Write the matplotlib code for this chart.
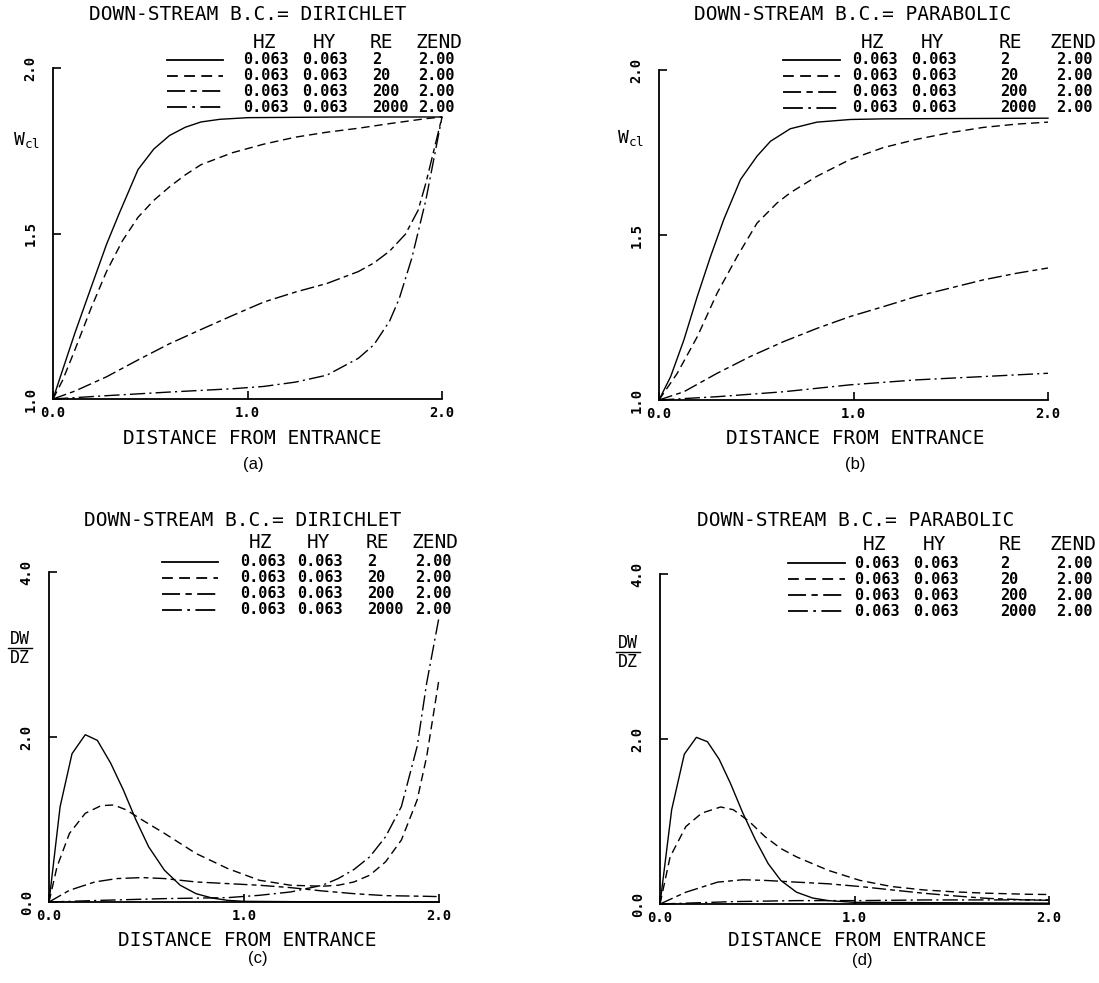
import matplotlib
matplotlib.use('Agg')
import matplotlib.pyplot as plt
from matplotlib.lines import Line2D

FIG_W, FIG_H = 1099, 983
MONO = 'DejaVu Sans Mono'
plt.rcParams['mathtext.fontset'] = 'custom'
plt.rcParams['mathtext.rm'] = MONO
plt.rcParams['mathtext.it'] = MONO

# ---------------- data ----------------
titles = ['DOWN-STREAM B.C.= DIRICHLET', 'DOWN-STREAM B.C.= PARABOLIC',
          'DOWN-STREAM B.C.= DIRICHLET', 'DOWN-STREAM B.C.= PARABOLIC']
panel_tags = ['(a)', '(b)', '(c)', '(d)']
x_label = 'DISTANCE FROM ENTRANCE'
x_ticks = [0.0, 1.0, 2.0]
x_tick_labels = ['0.0', '1.0', '2.0']
w_ticks = [1.0, 1.5, 2.0]
w_tick_labels = ['1.0', '1.5', '2.0']
d_ticks = [0.0, 2.0, 4.0]
d_tick_labels = ['0.0', '2.0', '4.0']
w_label = r'$\mathrm{W}_{\mathrm{cl}}$'
d_label_num = 'DW'
d_label_den = 'DZ'
legend_header = ['HZ', 'HY', 'RE', 'ZEND']
hz_values = ['0.063', '0.063', '0.063', '0.063']
hy_values = ['0.063', '0.063', '0.063', '0.063']
re_values = ['2', '20', '200', '2000']
zend_values = ['2.00', '2.00', '2.00', '2.00']

# (a) W_cl, Dirichlet
a_re2_z = [0, 0.049, 0.113, 0.194, 0.275, 0.340, 0.437, 0.518, 0.599, 0.680, 0.761, 0.858, 1.003, 1.5, 2.0]
a_re2_w = [1.0, 1.087, 1.200, 1.334, 1.467, 1.560, 1.693, 1.755, 1.796, 1.821, 1.837, 1.845, 1.850, 1.852, 1.852]
a_re20_z = [0, 0.049, 0.113, 0.194, 0.275, 0.356, 0.437, 0.518, 0.599, 0.680, 0.761, 0.922, 1.084, 1.246, 1.408, 1.570, 1.731, 1.917, 2.0]
a_re20_w = [1.0, 1.056, 1.149, 1.272, 1.385, 1.477, 1.549, 1.600, 1.641, 1.677, 1.708, 1.744, 1.770, 1.791, 1.806, 1.818, 1.832, 1.847, 1.852]
a_re200_z = [0, 0.113, 0.275, 0.437, 0.599, 0.761, 0.922, 1.084, 1.246, 1.408, 1.570, 1.650, 1.731, 1.812, 1.877, 1.917, 2.0]
a_re200_w = [1.0, 1.024, 1.067, 1.118, 1.167, 1.210, 1.252, 1.293, 1.323, 1.349, 1.385, 1.411, 1.447, 1.498, 1.570, 1.652, 1.852]
a_re2000_z = [0, 0.275, 0.599, 0.922, 1.084, 1.246, 1.408, 1.570, 1.650, 1.731, 1.780, 1.845, 1.917, 2.0]
a_re2000_w = [1.0, 1.010, 1.021, 1.031, 1.038, 1.051, 1.072, 1.123, 1.164, 1.236, 1.303, 1.426, 1.601, 1.852]

# (b) W_cl, Parabolic
b_re2_z = [0, 0.060, 0.128, 0.197, 0.265, 0.333, 0.419, 0.504, 0.573, 0.675, 0.812, 0.983, 1.154, 2.0]
b_re2_w = [1.0, 1.071, 1.182, 1.314, 1.435, 1.547, 1.668, 1.739, 1.784, 1.822, 1.842, 1.850, 1.852, 1.854]
b_re20_z = [0, 0.094, 0.197, 0.299, 0.402, 0.504, 0.607, 0.675, 0.812, 0.983, 1.154, 1.325, 1.496, 1.667, 1.838, 2.0]
b_re20_w = [1.0, 1.081, 1.192, 1.324, 1.435, 1.536, 1.597, 1.628, 1.678, 1.729, 1.765, 1.790, 1.810, 1.826, 1.836, 1.842]
b_re200_z = [0, 0.128, 0.299, 0.470, 0.641, 0.812, 0.983, 1.154, 1.325, 1.496, 1.667, 1.838, 2.0]
b_re200_w = [1.0, 1.025, 1.081, 1.132, 1.177, 1.217, 1.253, 1.283, 1.314, 1.339, 1.364, 1.384, 1.400]
b_re2000_z = [0, 0.299, 0.641, 0.983, 1.325, 1.667, 2.0]
b_re2000_w = [1.0, 1.010, 1.025, 1.046, 1.061, 1.071, 1.081]

# (c) DW/DZ, Dirichlet
c_re2_z = [0, 0.057, 0.118, 0.186, 0.248, 0.316, 0.381, 0.446, 0.511, 0.592, 0.673, 0.754, 0.835, 0.916, 1.0, 1.5, 2.0]
c_re2_d = [0, 1.156, 1.797, 2.028, 1.959, 1.684, 1.359, 0.994, 0.669, 0.385, 0.203, 0.101, 0.049, 0.020, 0.008, 0.0, 0.0]
c_re20_z = [0, 0.041, 0.105, 0.186, 0.267, 0.332, 0.397, 0.478, 0.592, 0.754, 0.916, 1.078, 1.240, 1.402, 1.483, 1.564, 1.645, 1.726, 1.807, 1.888, 1.937, 2.0]
c_re20_d = [0, 0.426, 0.832, 1.075, 1.168, 1.176, 1.116, 0.994, 0.832, 0.588, 0.406, 0.264, 0.203, 0.191, 0.203, 0.243, 0.325, 0.487, 0.751, 1.237, 1.765, 2.70]
c_re200_z = [0, 0.105, 0.235, 0.348, 0.478, 0.592, 0.754, 0.916, 1.078, 1.240, 1.402, 1.564, 1.726, 1.937, 2.0]
c_re200_d = [0, 0.142, 0.243, 0.284, 0.296, 0.284, 0.243, 0.223, 0.203, 0.174, 0.134, 0.101, 0.077, 0.069, 0.065]
c_re2000_z = [0, 0.267, 0.592, 0.916, 1.078, 1.240, 1.402, 1.483, 1.564, 1.645, 1.726, 1.807, 1.888, 1.937, 2.0]
c_re2000_d = [0, 0.020, 0.041, 0.053, 0.081, 0.122, 0.203, 0.284, 0.394, 0.548, 0.791, 1.156, 1.886, 2.657, 3.45]

# (d) DW/DZ, Parabolic
d_re2_z = [0, 0.060, 0.125, 0.187, 0.244, 0.304, 0.361, 0.426, 0.491, 0.556, 0.621, 0.702, 0.784, 0.865, 1.0, 2.0]
d_re2_d = [0, 1.143, 1.816, 2.020, 1.967, 1.755, 1.469, 1.102, 0.776, 0.490, 0.286, 0.143, 0.073, 0.041, 0.020, 0.010]
d_re20_z = [0, 0.052, 0.133, 0.215, 0.312, 0.377, 0.459, 0.540, 0.621, 0.702, 0.865, 1.028, 1.190, 1.353, 1.515, 1.678, 1.889, 2.0]
d_re20_d = [0, 0.571, 0.939, 1.102, 1.176, 1.143, 1.000, 0.816, 0.673, 0.571, 0.408, 0.286, 0.212, 0.171, 0.147, 0.131, 0.118, 0.115]
d_re200_z = [0, 0.133, 0.296, 0.426, 0.540, 0.702, 0.865, 1.028, 1.190, 1.353, 1.515, 1.678, 1.889, 2.0]
d_re200_d = [0, 0.143, 0.265, 0.294, 0.286, 0.265, 0.245, 0.212, 0.171, 0.131, 0.098, 0.069, 0.049, 0.045]
d_re2000_z = [0, 0.377, 0.702, 1.028, 1.353, 2.0]
d_re2000_d = [0, 0.029, 0.041, 0.041, 0.049, 0.050]

panel_series = [
    [(a_re2_z, a_re2_w), (a_re20_z, a_re20_w), (a_re200_z, a_re200_w), (a_re2000_z, a_re2000_w)],
    [(b_re2_z, b_re2_w), (b_re20_z, b_re20_w), (b_re200_z, b_re200_w), (b_re2000_z, b_re2000_w)],
    [(c_re2_z, c_re2_d), (c_re20_z, c_re20_d), (c_re200_z, c_re200_d), (c_re2000_z, c_re2000_d)],
    [(d_re2_z, d_re2_d), (d_re20_z, d_re20_d), (d_re200_z, d_re200_d), (d_re2000_z, d_re2000_d)],
]

# ---------------- styles / layout ----------------
LW = 1.0
dash_styles = [None, (6, 3.5), (10, 3, 3.5, 3), (11, 3, 1.5, 3)]

# axes rect in pixels: left, top, right, bottom
axes_px = [(53, 68, 442, 399), (659, 70, 1048, 400), (49, 572, 439, 902), (660, 574, 1049, 904)]
ylims = [(1.0, 2.0), (1.0, 2.0), (0.0, 4.0), (0.0, 4.0)]
leg = [
    dict(title=(248, 15), hy=43, rows=[60, 76, 91, 107], line=(167, 223), cols=[243, 302, 372, 418], hc=[264, 324, 381, 439]),
    dict(title=(853, 15), hy=43, rows=[60, 76, 92, 108], line=(783, 840), cols=[852, 911, 1000, 1056], hc=[873, 933, 1010, 1073]),
    dict(title=(243, 521), hy=543, rows=[562, 578, 594, 610], line=(162, 218), cols=[240, 297, 367, 415], hc=[260, 319, 377, 435]),
    dict(title=(856, 521), hy=544, rows=[563, 579, 595, 611], line=(788, 845), cols=[854, 913, 1000, 1056], hc=[875, 935, 1010, 1073]),
]
xlabel_px = [(252, 438), (855, 438), (247, 940), (857, 941)]
tag_px = [(253, 465), (855, 465), (258, 958), (862, 960)]
ylabel_px = [(26, 140), (630, 138), (20, 648), (628, 652)]


def fx(px):
    return px / FIG_W


def fy(py):
    return 1 - py / FIG_H


def style_line(line, k):
    if dash_styles[k] is not None:
        line.set_dashes(dash_styles[k])


fig = plt.figure(figsize=(FIG_W / 100, FIG_H / 100), dpi=100)

for p in range(4):
    l, t, r, b = axes_px[p]
    ax = fig.add_axes([fx(l), fy(b), (r - l) / FIG_W, (b - t) / FIG_H])
    ax.set_xlim(0, 2)
    ax.set_ylim(*ylims[p])
    for s in ['top', 'right']:
        ax.spines[s].set_visible(False)
    for s in ['left', 'bottom']:
        ax.spines[s].set_linewidth(1.3)
    for k, (zz, vv) in enumerate(panel_series[p]):
        ln, = ax.plot(zz, vv, color='black', lw=LW, clip_on=False)
        style_line(ln, k)
    ax.set_xticks(x_ticks)
    ax.set_xticklabels(x_tick_labels, fontfamily=MONO, fontweight='bold', fontsize=10)
    if p < 2:
        ax.set_yticks(w_ticks)
        ax.set_yticklabels(w_tick_labels, fontfamily=MONO, fontweight='bold', fontsize=10,
                           rotation=90, va='center')
    else:
        ax.set_yticks(d_ticks)
        ax.set_yticklabels(d_tick_labels, fontfamily=MONO, fontweight='bold', fontsize=10,
                           rotation=90, va='center')
    ax.tick_params(axis='both', direction='in', length=6, width=1.2)
    ax.tick_params(axis='x', pad=5)
    ax.tick_params(axis='y', pad=11)
    ax.patch.set_alpha(0)

    L = leg[p]
    fig.text(fx(L['title'][0]), fy(L['title'][1]), titles[p], fontfamily=MONO, fontsize=14,
             ha='center', va='center')
    for j, h in enumerate(legend_header):
        fig.text(fx(L['hc'][j]), fy(L['hy']), h, fontfamily=MONO, fontsize=14, ha='center', va='center')
    for k in range(4):
        y = L['rows'][k]
        ln = Line2D([fx(L['line'][0]), fx(L['line'][1])], [fy(y), fy(y)], transform=fig.transFigure,
                    color='black', lw=1.3)
        style_line(ln, k)
        fig.add_artist(ln)
        vals = [hz_values[k], hy_values[k], re_values[k], zend_values[k]]
        for j, v in enumerate(vals):
            fig.text(fx(L['cols'][j]), fy(y), v, fontfamily=MONO, fontweight='bold', fontsize=11,
                     ha='left', va='center')

    fig.text(fx(xlabel_px[p][0]), fy(xlabel_px[p][1]), x_label, fontfamily=MONO, fontsize=14,
             ha='center', va='center')
    fig.text(fx(tag_px[p][0]), fy(tag_px[p][1]), panel_tags[p], fontfamily='Liberation Sans',
             fontsize=12, ha='center', va='center')
    cx, cy = ylabel_px[p]
    if p < 2:
        fig.text(fx(cx), fy(cy), w_label, fontsize=13, ha='center', va='center')
    else:
        fig.text(fx(cx), fy(cy - 9), d_label_num, fontfamily=MONO, fontsize=12, ha='center', va='center')
        fig.text(fx(cx), fy(cy + 10), d_label_den, fontfamily=MONO, fontsize=12, ha='center', va='center')
        bar = Line2D([fx(cx - 12), fx(cx + 12)], [fy(cy), fy(cy)], transform=fig.transFigure,
                     color='black', lw=1.0)
        fig.add_artist(bar)

fig.savefig('out.png', dpi=100)
